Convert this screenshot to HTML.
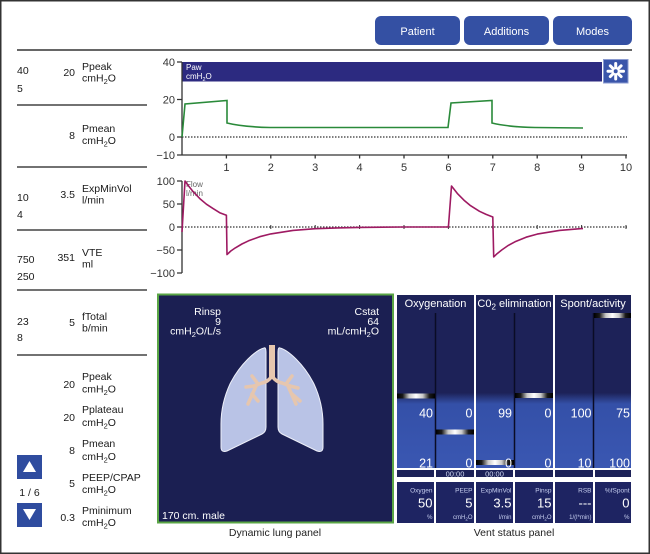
<!DOCTYPE html>
<html><head><meta charset="utf-8">
<style>
html,body{margin:0;padding:0;background:#fff;}
svg{display:block;font-family:"Liberation Sans",Arial,sans-serif;}
</style></head><body>
<svg width="650" height="554" viewBox="0 0 650 554" xmlns="http://www.w3.org/2000/svg">
<defs>
<linearGradient id="up" x1="0" y1="295" x2="0" y2="468" gradientUnits="userSpaceOnUse">
<stop offset="0" stop-color="#1d2258"/>
<stop offset="0.565" stop-color="#1d2258"/>
<stop offset="0.63" stop-color="#3450a8"/>
<stop offset="1" stop-color="#3a57b2"/>
</linearGradient>
<linearGradient id="sl" x1="0" y1="0" x2="1" y2="0">
<stop offset="0" stop-color="#000"/>
<stop offset="0.15" stop-color="#1a1a1a"/>
<stop offset="0.32" stop-color="#c8c8c8"/>
<stop offset="0.5" stop-color="#fff"/>
<stop offset="0.68" stop-color="#c8c8c8"/>
<stop offset="0.85" stop-color="#1a1a1a"/>
<stop offset="1" stop-color="#000"/>
</linearGradient>
</defs>

<rect x="0.75" y="0.75" width="648.5" height="552.5" fill="#fff" stroke="#333" stroke-width="1.5"/>

<!-- top buttons -->
<g fill="#3450a3">
<rect x="375" y="16" width="85" height="29" rx="6"/>
<rect x="464" y="16" width="85" height="29" rx="6"/>
<rect x="553" y="16" width="79" height="29" rx="6"/>
</g>
<g fill="#fff" font-size="11" text-anchor="middle">
<text x="417.5" y="35">Patient</text>
<text x="506.5" y="35">Additions</text>
<text x="592.5" y="35">Modes</text>
</g>
<line x1="17" y1="50" x2="632" y2="50" stroke="#333" stroke-width="1.5"/>

<!-- left separators -->
<g stroke="#444" stroke-width="1.5">
<line x1="17" y1="105" x2="147" y2="105"/>
<line x1="17" y1="167" x2="147" y2="167"/>
<line x1="17" y1="230" x2="147" y2="230"/>
<line x1="17" y1="290" x2="147" y2="290"/>
<line x1="17" y1="355" x2="147" y2="355"/>
</g>

<!-- left panel text -->
<g font-size="10.5" fill="#1a1a1a">
<text x="17" y="74">40</text>
<text x="17" y="92">5</text>
<text x="75" y="76" text-anchor="end">20</text>
<text x="82" y="70">Ppeak</text>
<text x="82" y="81.5">cmH<tspan font-size="7.5" dy="2.5">2</tspan><tspan dy="-2.5">O</tspan></text>

<text x="75" y="139" text-anchor="end">8</text>
<text x="82" y="132">Pmean</text>
<text x="82" y="144">cmH<tspan font-size="7.5" dy="2.5">2</tspan><tspan dy="-2.5">O</tspan></text>

<text x="17" y="201">10</text>
<text x="17" y="218">4</text>
<text x="75" y="198" text-anchor="end">3.5</text>
<text x="82" y="192">ExpMinVol</text>
<text x="82" y="203.5">l/min</text>

<text x="17" y="263">750</text>
<text x="17" y="280">250</text>
<text x="75" y="261" text-anchor="end">351</text>
<text x="82" y="256">VTE</text>
<text x="82" y="267.5">ml</text>

<text x="17" y="325">23</text>
<text x="17" y="341">8</text>
<text x="75" y="326" text-anchor="end">5</text>
<text x="82" y="320">fTotal</text>
<text x="82" y="331.5">b/min</text>

<text x="75" y="388" text-anchor="end">20</text>
<text x="82" y="380">Ppeak</text>
<text x="82" y="392.5">cmH<tspan font-size="7.5" dy="2.5">2</tspan><tspan dy="-2.5">O</tspan></text>

<text x="75" y="421" text-anchor="end">20</text>
<text x="82" y="413">Pplateau</text>
<text x="82" y="426">cmH<tspan font-size="7.5" dy="2.5">2</tspan><tspan dy="-2.5">O</tspan></text>

<text x="75" y="454" text-anchor="end">8</text>
<text x="82" y="447">Pmean</text>
<text x="82" y="460">cmH<tspan font-size="7.5" dy="2.5">2</tspan><tspan dy="-2.5">O</tspan></text>

<text x="75" y="487" text-anchor="end">5</text>
<text x="82" y="481">PEEP/CPAP</text>
<text x="82" y="493">cmH<tspan font-size="7.5" dy="2.5">2</tspan><tspan dy="-2.5">O</tspan></text>

<text x="75" y="521" text-anchor="end">0.3</text>
<text x="82" y="514">Pminimum</text>
<text x="82" y="526">cmH<tspan font-size="7.5" dy="2.5">2</tspan><tspan dy="-2.5">O</tspan></text>

<text x="29.5" y="496" text-anchor="middle">1 / 6</text>
</g>
<rect x="17" y="455" width="25" height="24" fill="#2f4c9f"/>
<polygon points="29.5,461 23,472 36,472" fill="#fff"/>
<rect x="17" y="503" width="25" height="24" fill="#2f4c9f"/>
<polygon points="23,509 36,509 29.5,520" fill="#fff"/>

<!-- Paw chart -->
<rect x="182" y="62" width="420" height="19.5" fill="#2c2a80"/>
<text x="186" y="70" font-size="8" fill="#fff">Paw</text>
<text x="186" y="79" font-size="8" fill="#fff">cmH<tspan font-size="5.5" dy="2">2</tspan><tspan dy="-2">O</tspan></text>
<rect x="603.5" y="59.5" width="24.5" height="23.5" fill="#3a55aa" stroke="#8a9ad0" stroke-width="1"/>
<g stroke="#fff" stroke-width="3" stroke-linecap="round">
<line x1="615.7" y1="63.5" x2="615.7" y2="79"/>
<line x1="608" y1="71.2" x2="623.5" y2="71.2"/>
<line x1="610.3" y1="65.8" x2="621.1" y2="76.6"/>
<line x1="610.3" y1="76.6" x2="621.1" y2="65.8"/>
</g>
<circle cx="615.7" cy="71.2" r="2" fill="#3a55aa"/>

<g stroke="#333" stroke-width="1.3" fill="none">
<line x1="182" y1="62" x2="182" y2="155.5"/>
<line x1="182" y1="155" x2="627" y2="155"/>
<path d="M177,62H182M177,99.5H182M177,137H182M177,155H182"/>
<path d="M226.4,155V158.5M270.8,155V158.5M315.2,155V158.5M359.6,155V158.5M404,155V158.5M448.4,155V158.5M492.8,155V158.5M537.2,155V158.5M581.6,155V158.5M626,155V158.5"/>
<line x1="182" y1="137" x2="627" y2="137" stroke-dasharray="1.5 1.5" stroke-width="1.2"/>
</g>
<g font-size="11" fill="#333" text-anchor="end">
<text x="175" y="66">40</text>
<text x="175" y="103.5">20</text>
<text x="175" y="141">0</text>
<text x="175" y="159">−10</text>
</g>
<g font-size="11" fill="#333" text-anchor="middle">
<text x="226.4" y="171">1</text>
<text x="270.8" y="171">2</text>
<text x="315.2" y="171">3</text>
<text x="359.6" y="171">4</text>
<text x="404" y="171">5</text>
<text x="448.4" y="171">6</text>
<text x="492.8" y="171">7</text>
<text x="537.2" y="171">8</text>
<text x="581.6" y="171">9</text>
<text x="626" y="171">10</text>
</g>
<path d="M182,137 L185,104 L227,100.5 L227,123 C237,125.5 250,127 270,127.5 L448,127.5 L451,103 L492,100.5 L492,123 C502,125.5 515,127 535,127.5 L583,128" fill="none" stroke="#2a8a3a" stroke-width="1.6"/>

<!-- Flow chart -->
<g stroke="#333" stroke-width="1.3" fill="none">
<line x1="182" y1="181" x2="182" y2="273"/>
<path d="M177,181H182M177,204H182M177,227H182M177,250H182M177,273H182"/>
<line x1="182" y1="227" x2="627" y2="227" stroke-dasharray="1.5 1.5" stroke-width="1.2"/>
<path d="M226.4,225V229M270.8,225V229M315.2,225V229M359.6,225V229M404,225V229M448.4,225V229M492.8,225V229M537.2,225V229M581.6,225V229M626,225V229" stroke-width="1"/>
</g>
<g font-size="11" fill="#333" text-anchor="end">
<text x="175" y="185">100</text>
<text x="175" y="208">50</text>
<text x="175" y="231">0</text>
<text x="175" y="254">−50</text>
<text x="175" y="277">−100</text>
</g>
<text x="186" y="187" font-size="8" fill="#666">Flow</text>
<text x="186" y="196" font-size="8" fill="#666">l/min</text>
<path d="M182,232 L185,181 L188.7,186.1 L193.1,191.6 L199.8,198.6 L206.4,204.2 L213.1,208.6 L219.7,212.7 L226.4,215.2 L227,254.6 L230.8,251 L235.3,247.9 L241.9,244 L248.6,240.8 L259.7,236.7 L270.8,233.9 L293,230.4 L315.2,228.7 L337.4,227.9 L359.6,227.4 L404,227 L448.4,227 L451.5,186 L457.3,193.4 L464,200.2 L470.6,205.7 L479.5,211.3 L486.1,214.4 L492.8,217 L493.7,256.9 L497.2,253.6 L501.7,250 L508.3,245.4 L515,241.8 L526.1,237.2 L537.2,234.1 L559.4,230.4 L581.6,228.6 L583,228.6" fill="none" stroke="#9e1a62" stroke-width="1.6" stroke-linejoin="round"/>

<!-- Dynamic lung panel -->
<rect x="158" y="294.5" width="235" height="228" fill="#1b1f52" stroke="#5aa545" stroke-width="2"/>
<g font-size="10.5" fill="#fff" text-anchor="end">
<text x="221" y="315">Rinsp</text>
<text x="221" y="325">9</text>
<text x="221" y="334.5">cmH<tspan font-size="7.5" dy="2.5">2</tspan><tspan dy="-2.5">O/L/s</tspan></text>
<text x="379" y="315">Cstat</text>
<text x="379" y="325">64</text>
<text x="379" y="334.5">mL/cmH<tspan font-size="7.5" dy="2.5">2</tspan><tspan dy="-2.5">O</tspan></text>
</g>
<text x="162" y="519" font-size="10.5" fill="#fff">170 cm. male</text>
<g fill="#b9c3e6" stroke="#eef0fa" stroke-width="1">
<path d="M264,348 C256,350 240,364 230,384 C224,397 221,410 221,424 L221,447 Q221,453 227,451 L262,434 Q266,432 266,427 L266,352 Q266,347 264,348 Z"/>
<path d="M280,348 C288,350 304,364 314,384 C320,397 323,410 323,424 L323,447 Q323,453 317,451 L282,434 Q278,432 278,427 L278,352 Q278,347 280,348 Z"/>
</g>
<rect x="269" y="345" width="6" height="34" fill="#e6c6ae"/>
<g stroke="#e6c6ae" stroke-width="3.5" stroke-linecap="round" fill="none">
<path d="M272,376 Q268,382 262,383 L254,386"/>
<path d="M258,384 L252,376"/>
<path d="M254,386 L246,387"/>
<path d="M256,386 L248,404"/>
<path d="M252,394 L258,401"/>
<path d="M272,376 Q276,382 282,383 L290,386"/>
<path d="M286,384 L292,376"/>
<path d="M290,386 L298,388"/>
<path d="M288,386 L296,404"/>
<path d="M292,394 L300,401"/>
</g>
<text x="275" y="536" font-size="10.5" fill="#222" text-anchor="middle">Dynamic lung panel</text>

<!-- Vent status panel -->
<rect x="397" y="295" width="234" height="228" fill="#fff"/>
<g fill="url(#up)">
<rect x="397" y="295" width="77" height="173"/>
<rect x="476" y="295" width="77" height="173"/>
<rect x="555" y="295" width="76" height="173"/>
</g>
<g stroke="#0a0c25" stroke-width="1.5">
<line x1="435.5" y1="313" x2="435.5" y2="468"/>
<line x1="514.5" y1="313" x2="514.5" y2="468"/>
<line x1="593.5" y1="313" x2="593.5" y2="468"/>
</g>
<g fill="#1d2258">
<rect x="397" y="470" width="37" height="7"/>
<rect x="436" y="470" width="38" height="7"/>
<rect x="476" y="470" width="37" height="7"/>
<rect x="515" y="470" width="38" height="7"/>
<rect x="555" y="470" width="38" height="7"/>
<rect x="595" y="470" width="36" height="7"/>
</g>
<g fill="#1e2462">
<rect x="397" y="482" width="37" height="41"/>
<rect x="436" y="482" width="38" height="41"/>
<rect x="476" y="482" width="37" height="41"/>
<rect x="515" y="482" width="38" height="41"/>
<rect x="555" y="482" width="38" height="41"/>
<rect x="595" y="482" width="36" height="41"/>
</g>
<!-- sliders -->
<g fill="url(#sl)">
<rect x="397" y="393.5" width="38" height="5"/>
<rect x="436" y="429.5" width="38" height="5"/>
<rect x="476" y="460" width="38" height="5"/>
<rect x="515" y="393" width="38" height="5"/>
<rect x="594" y="313" width="37" height="5"/>
</g>
<g font-size="11" fill="#fff" text-anchor="middle">
<text x="435.5" y="307">Oxygenation</text>
<text x="514.5" y="307">C0<tspan font-size="8" dy="2.5">2</tspan><tspan dy="-2.5"> elimination</tspan></text>
<text x="593" y="307">Spont/activity</text>
</g>
<g font-size="12.5" fill="#fff" text-anchor="end">
<text x="433" y="417.5">40</text>
<text x="472.5" y="417.5">0</text>
<text x="512" y="417.5">99</text>
<text x="551.5" y="417.5">0</text>
<text x="591.5" y="417.5">100</text>
<text x="630" y="417.5">75</text>
<text x="433" y="467.5">21</text>
<text x="472.5" y="467.5">0</text>
<text x="512" y="467.5">0</text>
<text x="551.5" y="467.5">0</text>
<text x="591.5" y="467.5">10</text>
<text x="630" y="467.5">100</text>
</g>
<g font-size="7.5" fill="#d0d8f0" text-anchor="middle">
<text x="455" y="476.5">00:00</text>
<text x="494.5" y="476.5">00:00</text>
</g>
<g font-size="6.5" fill="#c5cdee" text-anchor="end">
<text x="432.5" y="492.5">Oxygen</text>
<text x="472.5" y="492.5">PEEP</text>
<text x="511.5" y="492.5">ExpMinVol</text>
<text x="551.5" y="492.5">Pinsp</text>
<text x="591.5" y="492.5">RSB</text>
<text x="629.5" y="492.5">%fSpont</text>
</g>
<g font-size="13" fill="#fff" text-anchor="end">
<text x="432.5" y="507.5">50</text>
<text x="472.5" y="507.5">5</text>
<text x="511.5" y="507.5">3.5</text>
<text x="551.5" y="507.5">15</text>
<text x="591.5" y="507.5">---</text>
<text x="629.5" y="507.5">0</text>
</g>
<g font-size="6" fill="#c5cdee" text-anchor="end">
<text x="432.5" y="519">%</text>
<text x="472.5" y="519">cmH<tspan font-size="4.5" dy="1.5">2</tspan><tspan dy="-1.5">O</tspan></text>
<text x="511.5" y="519">l/min</text>
<text x="551.5" y="519">cmH<tspan font-size="4.5" dy="1.5">2</tspan><tspan dy="-1.5">O</tspan></text>
<text x="591.5" y="519">1/(l*min)</text>
<text x="629.5" y="519">%</text>
</g>
<text x="514" y="536" font-size="10.5" fill="#222" text-anchor="middle">Vent status panel</text>
</svg>
</body></html>
